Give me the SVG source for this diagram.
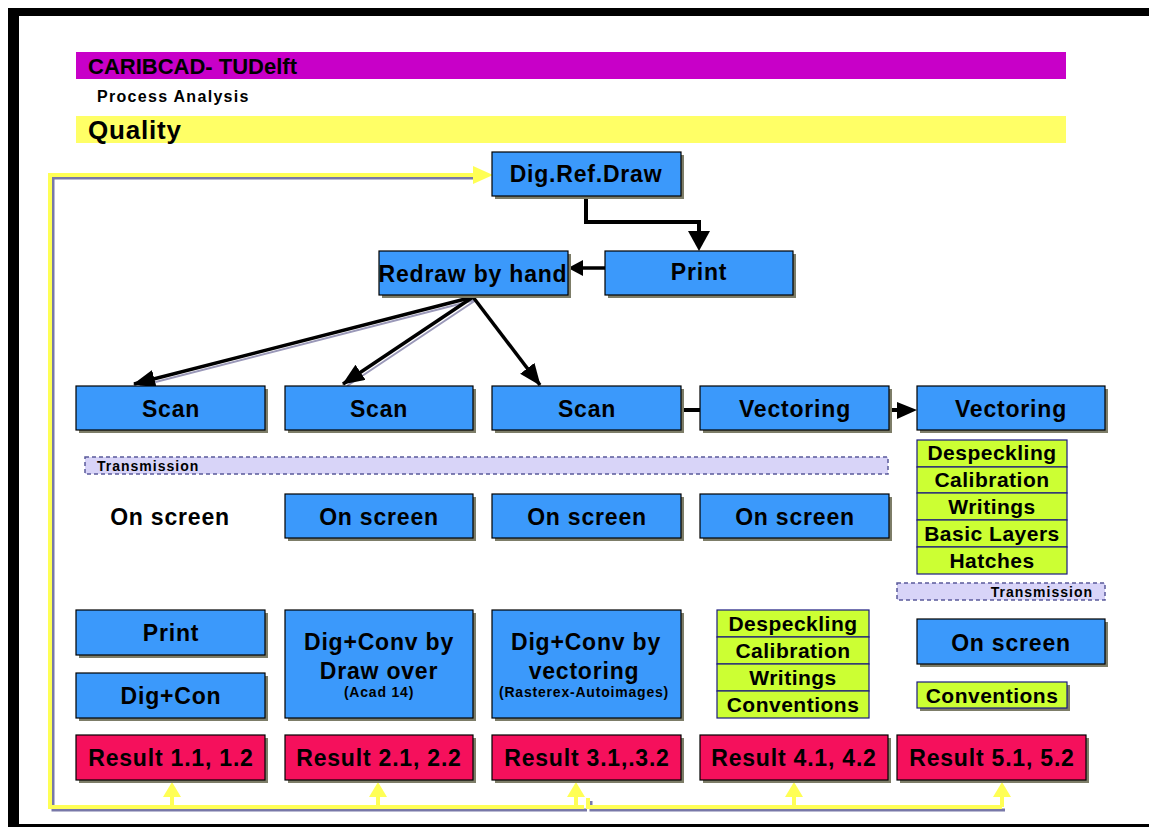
<svg xmlns="http://www.w3.org/2000/svg" width="1149" height="827" viewBox="0 0 1149 827">
  <defs>
    <style>
      .t { font-family: "Liberation Sans", Arial, sans-serif; font-weight: bold; font-size: 23px; letter-spacing: 0.8px; text-anchor: middle; fill: #000; }
      .s { font-size: 21px; letter-spacing: 0.5px; }
      .xs { font-size: 14px; letter-spacing: 0.8px; }
      .tr { font-family: "Liberation Sans", Arial, sans-serif; font-weight: bold; font-size: 14px; letter-spacing: 1px; fill: #000; }
      .box { fill: #3b99fb; stroke: #000; stroke-width: 1.2; }
      .red { fill: #f5105c; stroke: #000; stroke-width: 1.2; }
      .grn { fill: #ccff33; stroke: #1a1a80; stroke-width: 1.2; }
      .sh { fill: #7d7d68; }
      .band { fill: #d8d4f8; stroke: #5a5a9a; stroke-width: 1.5; stroke-dasharray: 4 3; }
      .wire { fill: none; stroke: #000; stroke-width: 4; }
      .diag { fill: none; stroke: #000; stroke-width: 3.5; marker-end: url(#ah); }
      .diagsh { fill: none; stroke: #9a98b8; stroke-width: 2; }
      .loop { fill: none; stroke: #ffff55; stroke-width: 4; }
      .loopsh { fill: none; stroke: #7878a8; stroke-width: 3; }
    </style>
    <marker id="ah" markerUnits="userSpaceOnUse" markerWidth="24" markerHeight="20" refX="21" refY="9" orient="auto">
      <path d="M0,0 L22,9 L0,18 z" fill="#000"/>
    </marker>
  </defs>

  <!-- page frame -->
  <rect x="0" y="0" width="1149" height="827" fill="#fff"/>
  <rect x="8" y="8" width="1141" height="819" fill="#000"/>
  <rect x="19" y="16" width="1130" height="808" fill="#fff"/>

  <!-- header bars -->
  <g id="header">
    <rect x="76" y="52" width="990" height="27" fill="#c800c8"/>
    <text x="88" y="74" font-family="Liberation Sans, Arial, sans-serif" font-weight="bold" font-size="22">CARIBCAD- TUDelft</text>
    <text x="97" y="102" font-family="Liberation Sans, Arial, sans-serif" font-weight="bold" font-size="16" letter-spacing="1.3">Process Analysis</text>
    <rect x="76" y="116" width="990" height="27" fill="#ffff66"/>
    <text x="88" y="139" font-family="Liberation Sans, Arial, sans-serif" font-weight="bold" font-size="26" letter-spacing="0.8">Quality</text>
  </g>

  <!-- connectors -->
  <g id="connectors">
    <!-- feedback loop -->
    <path class="loopsh" d="M477,178 H53 V810 H587"/>
    <path class="loopsh" d="M591,801 V810 H1005"/>
    <path class="loop" d="M477,175 H50 V807 H584"/>
    <path class="loop" d="M588,798 V807 H1002"/>
    <polygon points="473,166 493,175 473,184" fill="#ffff55"/>
    <g fill="#ffff55">
      <polygon points="172,782 163,797 181,797"/><rect x="170" y="796" width="4" height="11"/>
      <polygon points="378,782 369,797 387,797"/><rect x="376" y="796" width="4" height="11"/>
      <polygon points="576,782 567,797 585,797"/><rect x="574" y="796" width="4" height="11"/>
      <polygon points="794,782 785,797 803,797"/><rect x="792" y="796" width="4" height="11"/>
      <polygon points="1002,782 993,797 1011,797"/><rect x="1000" y="796" width="4" height="11"/>
    </g>

    <!-- Dig.Ref.Draw to Print -->
    <path class="wire" d="M586,196 V222 H699 V234"/>
    <polygon points="688,231 710,231 699,251" fill="#000"/>
    <!-- Print to Redraw by hand -->
    <line x1="605" y1="268" x2="580" y2="268" stroke="#000" stroke-width="3.5"/>
    <polygon points="568,268 583,260 583,276" fill="#000"/>

    <!-- Redraw by hand to the three scans -->
    <line class="diagsh" x1="475" y1="300" x2="140" y2="386"/>
    <line class="diagsh" x1="476" y1="300" x2="347" y2="386"/>
    <line class="diag" x1="473" y1="297" x2="134" y2="384"/>
    <line class="diag" x1="473" y1="297" x2="343" y2="384"/>
    <line class="diag" x1="473" y1="297" x2="540" y2="385"/>

    <!-- Scan to Vectoring to Vectoring -->
    <line class="wire" x1="681" y1="410" x2="700" y2="410"/>
    <line class="wire" x1="889" y1="410" x2="900" y2="410"/>
    <polygon points="897,402 917,410 897,419" fill="#000"/>
  </g>

  <!-- top row -->
  <g id="dig-ref-draw">
    <rect class="sh" x="495" y="155" width="189" height="44"/>
    <rect class="box" x="492" y="152" width="189" height="44"/>
    <text class="t" x="586" y="182" font-size="22" letter-spacing="0">Dig.Ref.Draw</text>
  </g>
  <g id="print-top">
    <rect class="sh" x="608" y="254" width="188" height="44"/>
    <rect class="box" x="605" y="251" width="188" height="44"/>
    <text class="t" x="699" y="280" font-size="21" letter-spacing="0.5">Print</text>
  </g>
  <g id="redraw-by-hand">
    <rect class="sh" x="382" y="254" width="189" height="44"/>
    <rect class="box" x="379" y="251" width="189" height="44"/>
    <text class="t" x="473" y="282">Redraw by hand</text>
  </g>

  <!-- scan / vectoring row -->
  <g id="scan-1">
    <rect class="sh" x="79" y="389" width="189" height="44"/>
    <rect class="box" x="76" y="386" width="189" height="44"/>
    <text class="t" x="171" y="417">Scan</text>
  </g>
  <g id="scan-2">
    <rect class="sh" x="288" y="389" width="188" height="44"/>
    <rect class="box" x="285" y="386" width="188" height="44"/>
    <text class="t" x="379" y="417">Scan</text>
  </g>
  <g id="scan-3">
    <rect class="sh" x="495" y="389" width="189" height="44"/>
    <rect class="box" x="492" y="386" width="189" height="44"/>
    <text class="t" x="587" y="417">Scan</text>
  </g>
  <g id="vectoring-1">
    <rect class="sh" x="703" y="389" width="189" height="44"/>
    <rect class="box" x="700" y="386" width="189" height="44"/>
    <text class="t" x="795" y="417">Vectoring</text>
  </g>
  <g id="vectoring-2">
    <rect class="sh" x="920" y="389" width="188" height="44"/>
    <rect class="box" x="917" y="386" width="188" height="44"/>
    <text class="t" x="1011" y="417">Vectoring</text>
  </g>

  <g id="transmission-1">
    <rect class="band" x="85" y="457" width="803" height="17"/>
    <text class="tr" x="97" y="471">Transmission</text>
  </g>

  <g id="vectoring-steps">
    <rect class="grn" x="917" y="440" width="150" height="27"/>
    <rect class="grn" x="917" y="467" width="150" height="26"/>
    <rect class="grn" x="917" y="493" width="150" height="27"/>
    <rect class="grn" x="917" y="520" width="150" height="27"/>
    <rect class="grn" x="917" y="547" width="150" height="27"/>
    <text class="t s" x="992" y="460">Despeckling</text>
    <text class="t s" x="992" y="487">Calibration</text>
    <text class="t s" x="992" y="514">Writings</text>
    <text class="t s" x="992" y="541">Basic Layers</text>
    <text class="t s" x="992" y="568">Hatches</text>
  </g>

  <!-- on screen row -->
  <g id="on-screen-1">
    <text class="t" x="170" y="525">On screen</text>
  </g>
  <g id="on-screen-2">
    <rect class="sh" x="288" y="497" width="188" height="44"/>
    <rect class="box" x="285" y="494" width="188" height="44"/>
    <text class="t" x="379" y="525">On screen</text>
  </g>
  <g id="on-screen-3">
    <rect class="sh" x="495" y="497" width="189" height="44"/>
    <rect class="box" x="492" y="494" width="189" height="44"/>
    <text class="t" x="587" y="525">On screen</text>
  </g>
  <g id="on-screen-4">
    <rect class="sh" x="703" y="497" width="189" height="44"/>
    <rect class="box" x="700" y="494" width="189" height="44"/>
    <text class="t" x="795" y="525">On screen</text>
  </g>

  <g id="transmission-2">
    <rect class="band" x="897" y="583" width="208" height="17"/>
    <text class="tr" x="1093" y="597" text-anchor="end">Transmission</text>
  </g>

  <!-- method row -->
  <g id="print-bottom">
    <rect class="sh" x="79" y="613" width="189" height="45"/>
    <rect class="box" x="76" y="610" width="189" height="45"/>
    <text class="t" x="171" y="641">Print</text>
  </g>
  <g id="dig-con">
    <rect class="sh" x="79" y="676" width="189" height="45"/>
    <rect class="box" x="76" y="673" width="189" height="45"/>
    <text class="t" x="171" y="704">Dig+Con</text>
  </g>
  <g id="draw-over">
    <rect class="sh" x="288" y="613" width="188" height="108"/>
    <rect class="box" x="285" y="610" width="188" height="108"/>
    <text class="t" x="379" y="650">Dig+Conv by</text>
    <text class="t" x="379" y="679">Draw over</text>
    <text class="t xs" x="379" y="697">(Acad 14)</text>
  </g>
  <g id="dig-vectoring">
    <rect class="sh" x="495" y="613" width="189" height="108"/>
    <rect class="box" x="492" y="610" width="189" height="108"/>
    <text class="t" x="586" y="650">Dig+Conv by</text>
    <text class="t" x="584" y="679">vectoring</text>
    <text class="t xs" x="584" y="697">(Rasterex-Autoimages)</text>
  </g>
  <g id="cleanup-steps">
    <rect class="grn" x="717" y="610" width="152" height="27"/>
    <rect class="grn" x="717" y="637" width="152" height="27"/>
    <rect class="grn" x="717" y="664" width="152" height="27"/>
    <rect class="grn" x="717" y="691" width="152" height="27"/>
    <text class="t s" x="793" y="631">Despeckling</text>
    <text class="t s" x="793" y="658">Calibration</text>
    <text class="t s" x="793" y="685">Writings</text>
    <text class="t s" x="793" y="712">Conventions</text>
  </g>
  <g id="on-screen-5">
    <rect class="sh" x="920" y="622" width="188" height="45"/>
    <rect class="box" x="917" y="619" width="188" height="45"/>
    <text class="t" x="1011" y="651">On screen</text>
  </g>
  <g id="conventions">
    <rect class="sh" x="920" y="685" width="150" height="26"/>
    <rect class="grn" x="917" y="682" width="150" height="26"/>
    <text class="t s" x="992" y="703">Conventions</text>
  </g>

  <!-- results row -->
  <g id="result-1">
    <rect class="sh" x="79" y="738" width="189" height="45"/>
    <rect class="red" x="76" y="735" width="189" height="45"/>
    <text class="t" x="171" y="766">Result 1.1, 1.2</text>
  </g>
  <g id="result-2">
    <rect class="sh" x="288" y="738" width="188" height="45"/>
    <rect class="red" x="285" y="735" width="188" height="45"/>
    <text class="t" x="379" y="766">Result 2.1, 2.2</text>
  </g>
  <g id="result-3">
    <rect class="sh" x="495" y="738" width="189" height="45"/>
    <rect class="red" x="492" y="735" width="189" height="45" stroke-width="3"/>
    <text class="t" x="587" y="766">Result 3.1,.3.2</text>
  </g>
  <g id="result-4">
    <rect class="sh" x="703" y="738" width="188" height="45"/>
    <rect class="red" x="700" y="735" width="188" height="45"/>
    <text class="t" x="794" y="766">Result 4.1, 4.2</text>
  </g>
  <g id="result-5">
    <rect class="sh" x="900" y="738" width="189" height="45"/>
    <rect class="red" x="897" y="735" width="189" height="45"/>
    <text class="t" x="992" y="766">Result 5.1, 5.2</text>
  </g>
</svg>
